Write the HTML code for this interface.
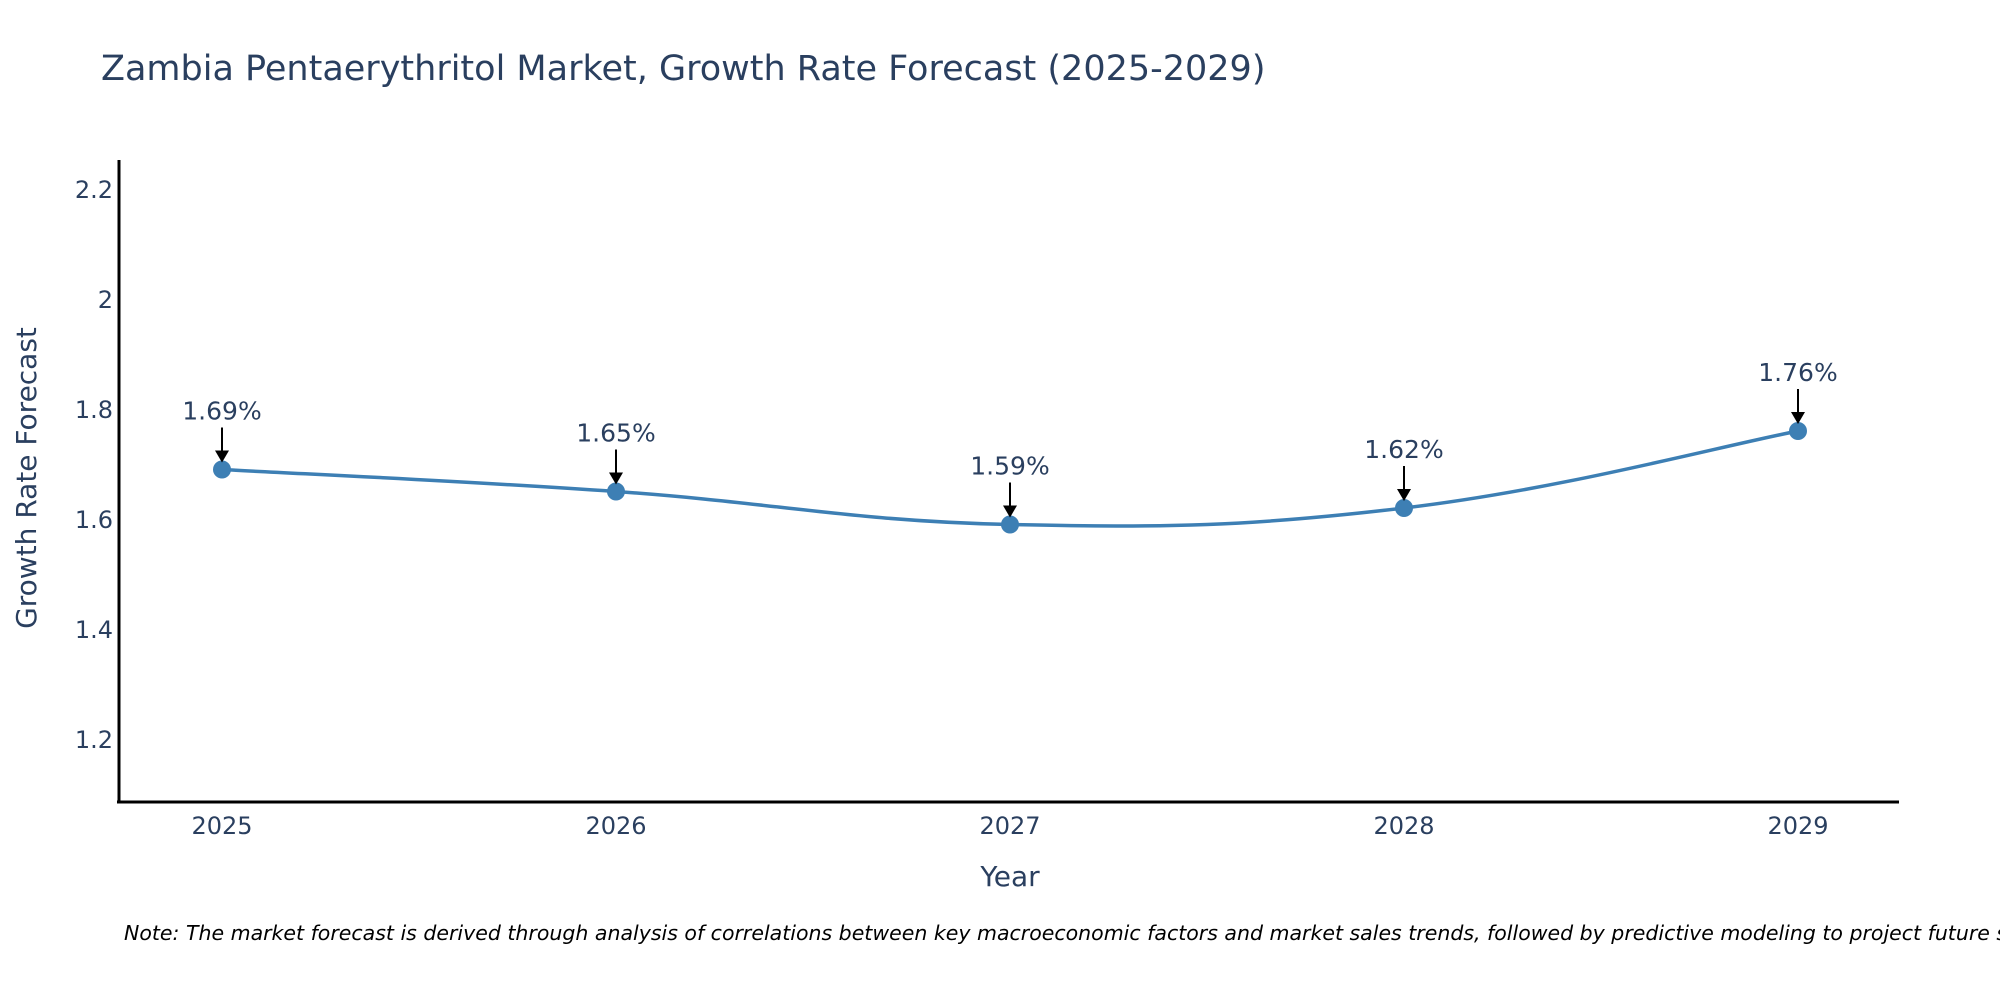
<!DOCTYPE html>
<html><head><meta charset="utf-8"><style>
body{margin:0;background:#fff;}
svg text{font-family:"DejaVu Sans","Liberation Sans",sans-serif;fill:#2a3f5f;}
</style></head><body>
<svg id="chart" width="2000" height="1000" xmlns="http://www.w3.org/2000/svg">
<text x="101" y="80" font-size="35">Zambia Pentaerythritol Market, Growth Rate Forecast (2025-2029)</text>
<g id="yticks"></g>
<g id="xticks"></g>
<line x1="119" y1="160" x2="119" y2="803" stroke="#000" stroke-width="3"/>
<line x1="117" y1="802" x2="1899" y2="802" stroke="#000" stroke-width="3"/>
<text transform="translate(36,478) rotate(-90)" text-anchor="middle" font-size="28">Growth Rate Forecast</text>
<text x="1010" y="886" text-anchor="middle" font-size="28">Year</text>
<g id="series"></g>
<text x="124" y="940" font-size="20.5" font-style="italic" style="fill:#000">Note: The market forecast is derived through analysis of correlations between key macroeconomic factors and market sales trends, followed by predictive modeling to project future sales.</text>
</svg>
<script>
const years = [2025, 2026, 2027, 2028, 2029];
const rates = [1.69, 1.65, 1.59, 1.62, 1.76];
const yTicks = [1.2, 1.4, 1.6, 1.8, 2.0, 2.2];
const yTickLabels = ["1.2", "1.4", "1.6", "1.8", "2", "2.2"];

const NS = "http://www.w3.org/2000/svg";
function xs(yr){ return 222 + (yr - 2025) * 394; }
function ys(v){ return 739 - (v - 1.2) * 550; }
function mk(tag, attrs, parent){ const e=document.createElementNS(NS,tag); for(const k in attrs) e.setAttribute(k,attrs[k]); parent.appendChild(e); return e; }

const yg=document.getElementById('yticks');
yTicks.forEach((v,i)=>{
  const t=mk('text',{x:113,y:ys(v)+9,'text-anchor':'end','font-size':24},yg);
  
  
  t.textContent=yTickLabels[i];
});
const xg=document.getElementById('xticks');
years.forEach(yr=>{
  const t=mk('text',{x:xs(yr),y:834,'text-anchor':'middle','font-size':24},xg);
  
  
  t.textContent=String(yr);
});

const sg=document.getElementById('series');
const pts=years.map((yr,i)=>[xs(yr),ys(rates[i])]);
let d=`M${pts[0][0]},${pts[0][1]}`;
const s=0.2;
for(let i=0;i<pts.length-1;i++){
  const p0=pts[Math.max(i-1,0)],p1=pts[i],p2=pts[i+1],p3=pts[Math.min(i+2,pts.length-1)];
  const c1=[p1[0]+(p2[0]-p0[0])*s,p1[1]+(p2[1]-p0[1])*s];
  const c2=[p2[0]-(p3[0]-p1[0])*s,p2[1]-(p3[1]-p1[1])*s];
  d+=` C${c1[0]},${c1[1]} ${c2[0]},${c2[1]} ${p2[0]},${p2[1]}`;
}
const line=mk('path',{d:d,fill:'none',stroke:'#3d7fb4','stroke-width':3.5},sg);


pts.forEach((p,i)=>{
  const c=mk('circle',{cx:p[0],cy:p[1],r:9,fill:'#3d7fb4'},sg);
  
  
  const a=mk('line',{x1:p[0],y1:p[1]-42,x2:p[0],y2:p[1]-18,stroke:'#000','stroke-width':2},sg);
  
  
  const h=mk('polygon',{points:`${p[0]-7},${p[1]-19} ${p[0]+7},${p[1]-19} ${p[0]},${p[1]-7}`,fill:'#000'},sg);
  
  
  const t=mk('text',{x:p[0],y:p[1]-50,'text-anchor':'middle','font-size':25},sg);
  
  
  t.textContent=rates[i].toFixed(2)+'%';
});
</script>
</body></html>
